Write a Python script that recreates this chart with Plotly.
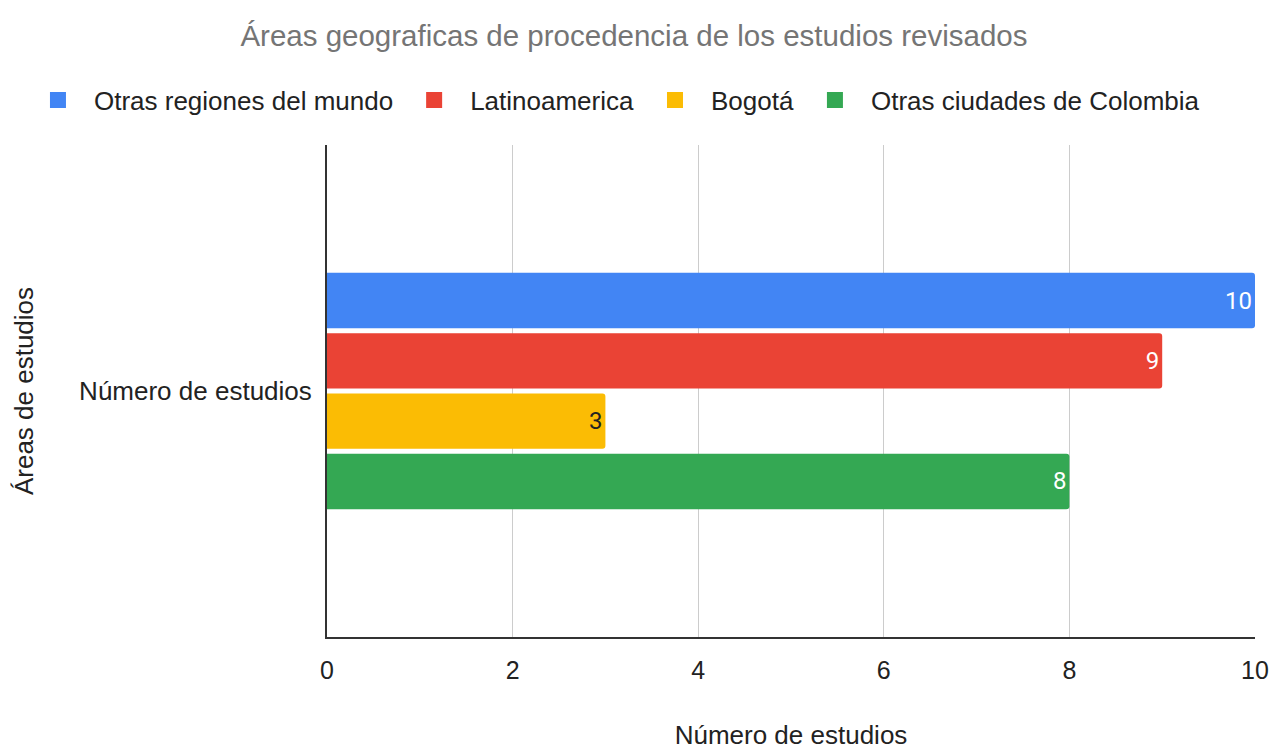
import plotly.graph_objects as go

category = ["Número de estudios"]
series_names = ["Otras regiones del mundo", "Latinoamerica", "Bogotá", "Otras ciudades de Colombia"]
series_values = [[10], [9], [3], [8]]
colors = ["#4285F4", "#EA4335", "#FBBC04", "#34A853"]
label_colors = ["#FFFFFF", "#FFFFFF", "#222222", "#FFFFFF"]
x_ticks = [0, 2, 4, 6, 8, 10]

FONT = "Liberation Sans, Arial, sans-serif"
fig = go.Figure()
for name, vals, c, lc in zip(series_names, series_values, colors, label_colors):
    fig.add_trace(go.Bar(
        y=category, x=vals, name=name, orientation="h", showlegend=False,
        marker=dict(color=c, line=dict(width=0)),
        text=[str(v) for v in vals], textposition="inside", insidetextanchor="end",
        textfont=dict(color=lc, size=24, family="Roboto, Arial, sans-serif"),
        cliponaxis=False,
    ))
# legend entries with square swatches
for name, c in zip(series_names, colors):
    fig.add_trace(go.Scatter(
        x=[None], y=[None], mode="markers", name=name,
        marker=dict(symbol="square", size=16, color=c), showlegend=True,
    ))

fig.update_layout(
    width=1273, height=750,
    paper_bgcolor="white", plot_bgcolor="white",
    margin=dict(l=327, r=18, t=145, b=113, autoexpand=False),
    title=dict(text="Áreas geograficas de procedencia de los estudios revisados",
               x=0.498, xref="container", xanchor="center", y=0.953, yanchor="middle",
               font=dict(family=FONT, size=29.5, color="#757575")),
    legend=dict(orientation="h", x=-0.3287, xref="paper", xanchor="left",
                y=1.0915, yref="paper", yanchor="middle",
                font=dict(family=FONT, size=26, color="#222222"),
                itemwidth=62, traceorder="normal"),
    barmode="group", bargap=0.51, bargroupgap=0.08, barcornerradius=3,
    showlegend=True,
    font=dict(family=FONT, color="#222222"),
)
fig.update_xaxes(range=[0, 10], tickvals=x_ticks, showgrid=True, gridcolor="#CCCCCC", gridwidth=1,
                 showline=True, linecolor="#333333", linewidth=2, zeroline=False,
                 tickfont=dict(size=25, color="#222222"), ticks="", ticklabelstandoff=10,
                 title=dict(text="Número de estudios", font=dict(size=26, color="#222222"), standoff=52))
fig.update_yaxes(autorange="reversed", showline=True, linecolor="#333333", linewidth=2,
                 showgrid=False, ticks="", tickfont=dict(size=26, color="#222222"), ticklabelstandoff=8,
                 title=dict(text="Áreas de estudios", font=dict(size=26, color="#222222"), standoff=38))

fig.write_html("out.html")
